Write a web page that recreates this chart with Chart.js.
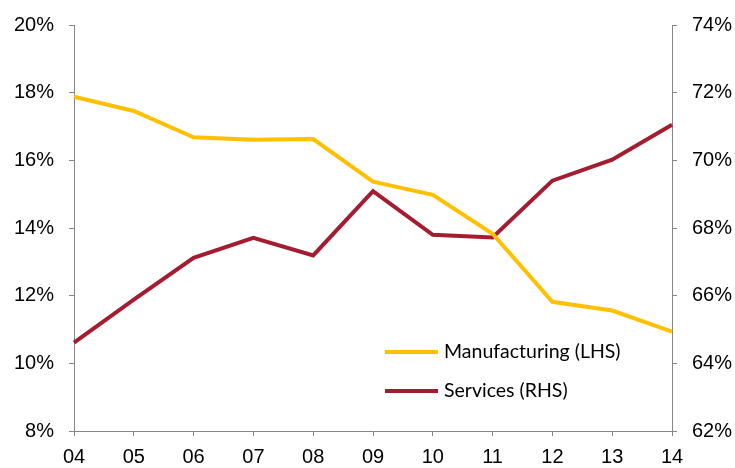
<!DOCTYPE html>
<html>
<head>
<meta charset="utf-8">
<script src="https://cdn.jsdelivr.net/npm/chart.js@4"></script>
<style>
    html, body { margin: 0; padding: 0; background: #fff; }
    #box { width: 735px; height: 468px; }
</style>
</head>
<body>
<div id="box"><canvas id="line-chart"></canvas></div>
<script>
    "use strict";

    var years = ["04", "05", "06", "07", "08", "09", "10", "11", "12", "13", "14"];
    var manufacturing = [17.88, 17.46, 16.68, 16.61, 16.63, 15.37, 14.98, 13.83, 11.82, 11.56, 10.94];
    var services = [64.61, 65.88, 67.12, 67.71, 67.19, 69.09, 67.8, 67.72, 69.4, 70.02, 71.05];
    var leftTicks = [8, 10, 12, 14, 16, 18, 20];
    var rightTicks = [62, 64, 66, 68, 70, 72, 74];

    var axisGrey = "#868686";
    var tickFont = { family: "'Liberation Sans', Arial", size: 20 };
    var sideFont = { family: "'Liberation Sans', Arial", size: 20, lineHeight: 1 };

    // Legend sits inside the plot, lower right
    var insideLegend = {
        id: "insideLegend",
        afterDraw: function (chart) {
            var ctx = chart.ctx;
            var sets = chart.data.datasets;
            ctx.save();
            ctx.font = "19.5px Lato";
            ctx.textBaseline = "middle";
            ctx.fillStyle = "#000";
            for (var i = 0; i < sets.length; i++) {
                var y = 352 + i * 39;
                ctx.strokeStyle = sets[i].borderColor;
                ctx.lineWidth = 4;
                ctx.beginPath();
                ctx.moveTo(385, y);
                ctx.lineTo(438, y);
                ctx.stroke();
                ctx.fillText(sets[i].label, 444, y);
            }
            ctx.restore();
        }
    };

    function fixedTicks(list) {
        return function (scale) {
            scale.ticks = list.map(function (v) { return { value: v }; });
        };
    }

    function fixWidth(scale) {
        scale.width = 61;
    }

    var ctx1 = document.getElementById("line-chart").getContext("2d");
    var myChart1 = new Chart(ctx1, {
        type: "line",
        data: {
            labels: years,
            datasets: [{
                    label: "Manufacturing (LHS)",
                    data: manufacturing,
                    borderColor: "#FFC000",
                    borderWidth: 4,
                    pointRadius: 0,
                    tension: 0,
                    yAxisID: "y"
                },
                {
                    label: "Services (RHS)",
                    data: services,
                    borderColor: "#A51C30",
                    borderWidth: 4,
                    pointRadius: 0,
                    tension: 0,
                    yAxisID: "y1"
                }
            ]
        },
        options: {
            responsive: true,
            maintainAspectRatio: false,
            animation: false,
            layout: { padding: { left: 13, right: 2, top: 23, bottom: 0 } },
            plugins: {
                legend: { display: false },
                tooltip: { enabled: false }
            },
            scales: {
                x: {
                    offset: false,
                    afterFit: function (scale) { scale.height = 37; },
                    border: { color: axisGrey, width: 1 },
                    grid: { drawOnChartArea: false, color: axisGrey, tickLength: 5 },
                    ticks: { color: "#000", font: tickFont, padding: 9, maxRotation: 0 }
                },
                y: {
                    position: "left",
                    min: 8,
                    max: 20,
                    afterBuildTicks: fixedTicks(leftTicks),
                    afterFit: fixWidth,
                    border: { color: axisGrey, width: 1 },
                    grid: { drawOnChartArea: false, color: axisGrey, tickLength: 5 },
                    ticks: {
                        color: "#000",
                        font: sideFont,
                        padding: 15,
                        callback: function (v) { return v + "%"; }
                    }
                },
                y1: {
                    position: "right",
                    min: 62,
                    max: 74,
                    afterBuildTicks: fixedTicks(rightTicks),
                    afterFit: fixWidth,
                    border: { color: axisGrey, width: 1 },
                    grid: { drawOnChartArea: false, color: axisGrey, tickLength: 5 },
                    ticks: {
                        color: "#000",
                        font: sideFont,
                        padding: 15,
                        callback: function (v) { return v + "%"; }
                    }
                }
            }
        },
        plugins: [insideLegend]
    });
</script>
</body>
</html>
